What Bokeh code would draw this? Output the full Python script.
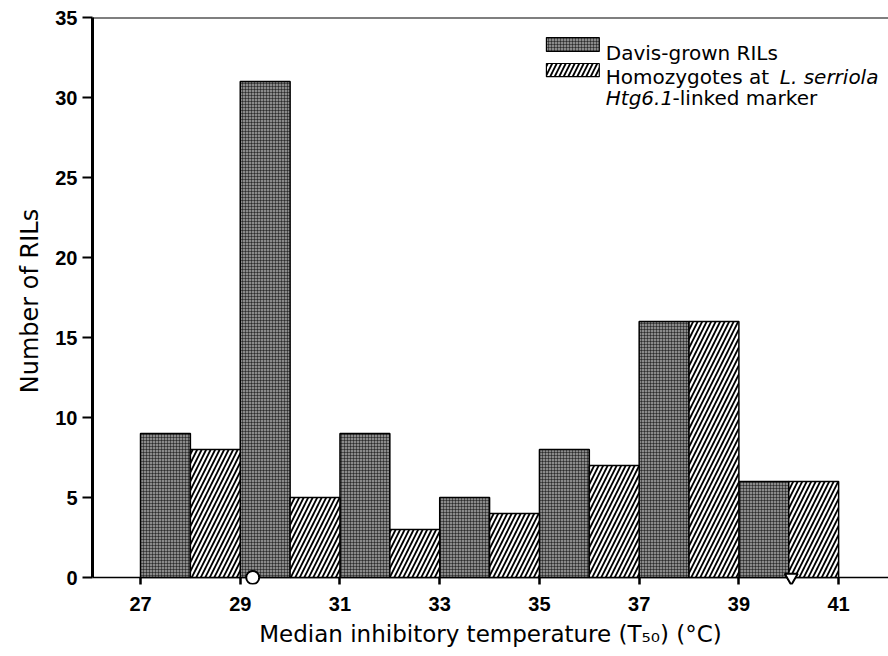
from bokeh.plotting import figure
from bokeh.models import Range1d, FixedTicker, Span, ColumnDataSource
from bokeh.core.properties import value
from bokeh.embed import file_html
from bokeh.resources import INLINE

# ---------------- data ----------------
bin_lower = [27, 29, 31, 33, 35, 37, 39]            # 2 degC bins
davis_counts = [9, 31, 9, 5, 8, 16, 6]             # Davis-grown RILs
homozygote_counts = [8, 5, 3, 4, 7, 16, 6]         # homozygotes at L. serriola marker
x_ticks = [27, 29, 31, 33, 35, 37, 39, 41]
y_ticks = [0, 5, 10, 15, 20, 25, 30, 35]
parent_t50 = [29.25, 40.05]                        # parental values (markers on axis)
parent_markers = ["circle", "inverted_triangle"]
legend_line1 = ["Davis-grown RILs"]
legend_line2 = ["Homozygotes at ", "L. serriola"]
legend_line3 = ["Htg6.1", "-linked marker"]
x_label = "Median inhibitory temperature (T\u2085\u2080) (\u00b0C)"
y_label = "Number of RILs"

FONT = "DejaVu Sans"
TICK_FONT = "Liberation Sans"

p = figure(width=888, height=656, output_backend="svg", toolbar_location=None,
           x_range=Range1d(26.037, 42.0), y_range=Range1d(-0.4375, 35),
           min_border_left=92, min_border_right=0, min_border_top=17,
           min_border_bottom=72)
p.background_fill_color = "white"
p.border_fill_color = "white"
p.outline_line_color = None
p.grid.visible = False

# ---------------- bars ----------------
src_d = ColumnDataSource(dict(x=[b + 0.5 for b in bin_lower], top=davis_counts))
src_h = ColumnDataSource(dict(x=[b + 1.5 for b in bin_lower], top=homozygote_counts))

checker = dict(fill_color="#8a8a8a", hatch_pattern="cross", hatch_scale=3,
               hatch_color="black", hatch_weight=0.8, hatch_alpha=0.55)
diag = dict(fill_color="white", hatch_pattern="right_diagonal_line", hatch_scale=9,
            hatch_color="black", hatch_weight=1.8)

p.vbar(x="x", top="top", bottom=0, width=1, source=src_d, line_color="black",
       line_width=1.5, **checker)
p.vbar(x="x", top="top", bottom=0, width=1, source=src_h, line_color="black",
       line_width=1.5, **diag)

# axis line at y=0 and top border
p.add_layout(Span(location=0, dimension="width", line_color="black", line_width=1.5,
                  level="underlay"))
p.add_layout(Span(location=35, dimension="width", line_color="black", line_width=2))

# parental markers
p.scatter(x=parent_t50, y=[0, 0], marker=parent_markers, size=13,
          fill_color="white", line_color="black", line_width=2)

# ---------------- legend (manual, for mixed italic text) ----------------
p.quad(left=[35.14], right=[36.2], top=[33.75], bottom=[32.875],
       line_color="black", line_width=1.2, **checker)
p.quad(left=[35.14], right=[36.2], top=[32.125], bottom=[31.3],
       line_color="black", line_width=1.2, **diag)

leg_common = dict(text_font=value(FONT), text_font_size="20px", text_color="black",
                  text_baseline="alphabetic", text_align="left")
p.text(x=[36.33], y=[32.81], text=legend_line1, **leg_common)
p.text(x=[36.33], y=[31.31], text=[legend_line2[0]], **leg_common)
p.text(x=[39.82], y=[31.31], text=[legend_line2[1]], text_font_style="italic", **leg_common)
p.text(x=[36.33], y=[29.94], text=[legend_line3[0]], text_font_style="italic", **leg_common)
p.text(x=[37.67], y=[29.94], text=[legend_line3[1]], **leg_common)

# ---------------- axes ----------------
xa = p.xaxis[0]
xa.ticker = FixedTicker(ticks=x_ticks)
xa.axis_line_color = None
xa.major_tick_in = 7
xa.major_tick_out = 0
xa.major_tick_line_width = 2.5
xa.minor_tick_line_color = None
xa.major_label_standoff = 12
xa.major_label_text_font = TICK_FONT
xa.major_label_text_font_size = "20px"
xa.major_label_text_font_style = "bold"
xa.major_label_text_color = "black"
xa.axis_label = x_label
xa.axis_label_text_font = FONT
xa.axis_label_text_font_size = "23px"
xa.axis_label_text_font_style = "normal"
xa.axis_label_text_color = "black"
xa.axis_label_standoff = 7

ya = p.yaxis[0]
ya.ticker = FixedTicker(ticks=y_ticks)
ya.bounds = (0, 35)
ya.axis_line_width = 3
ya.axis_line_color = "black"
ya.major_tick_in = 0
ya.major_tick_out = 10
ya.major_tick_line_width = 2
ya.minor_tick_line_color = None
ya.major_label_standoff = 5
ya.major_label_text_font = TICK_FONT
ya.major_label_text_font_size = "20px"
ya.major_label_text_font_style = "bold"
ya.major_label_text_color = "black"
ya.axis_label = y_label
ya.axis_label_text_font = FONT
ya.axis_label_text_font_size = "24px"
ya.axis_label_text_font_style = "normal"
ya.axis_label_text_color = "black"
ya.axis_label_standoff = 8

open("out.html", "w").write(file_html(p, INLINE))
